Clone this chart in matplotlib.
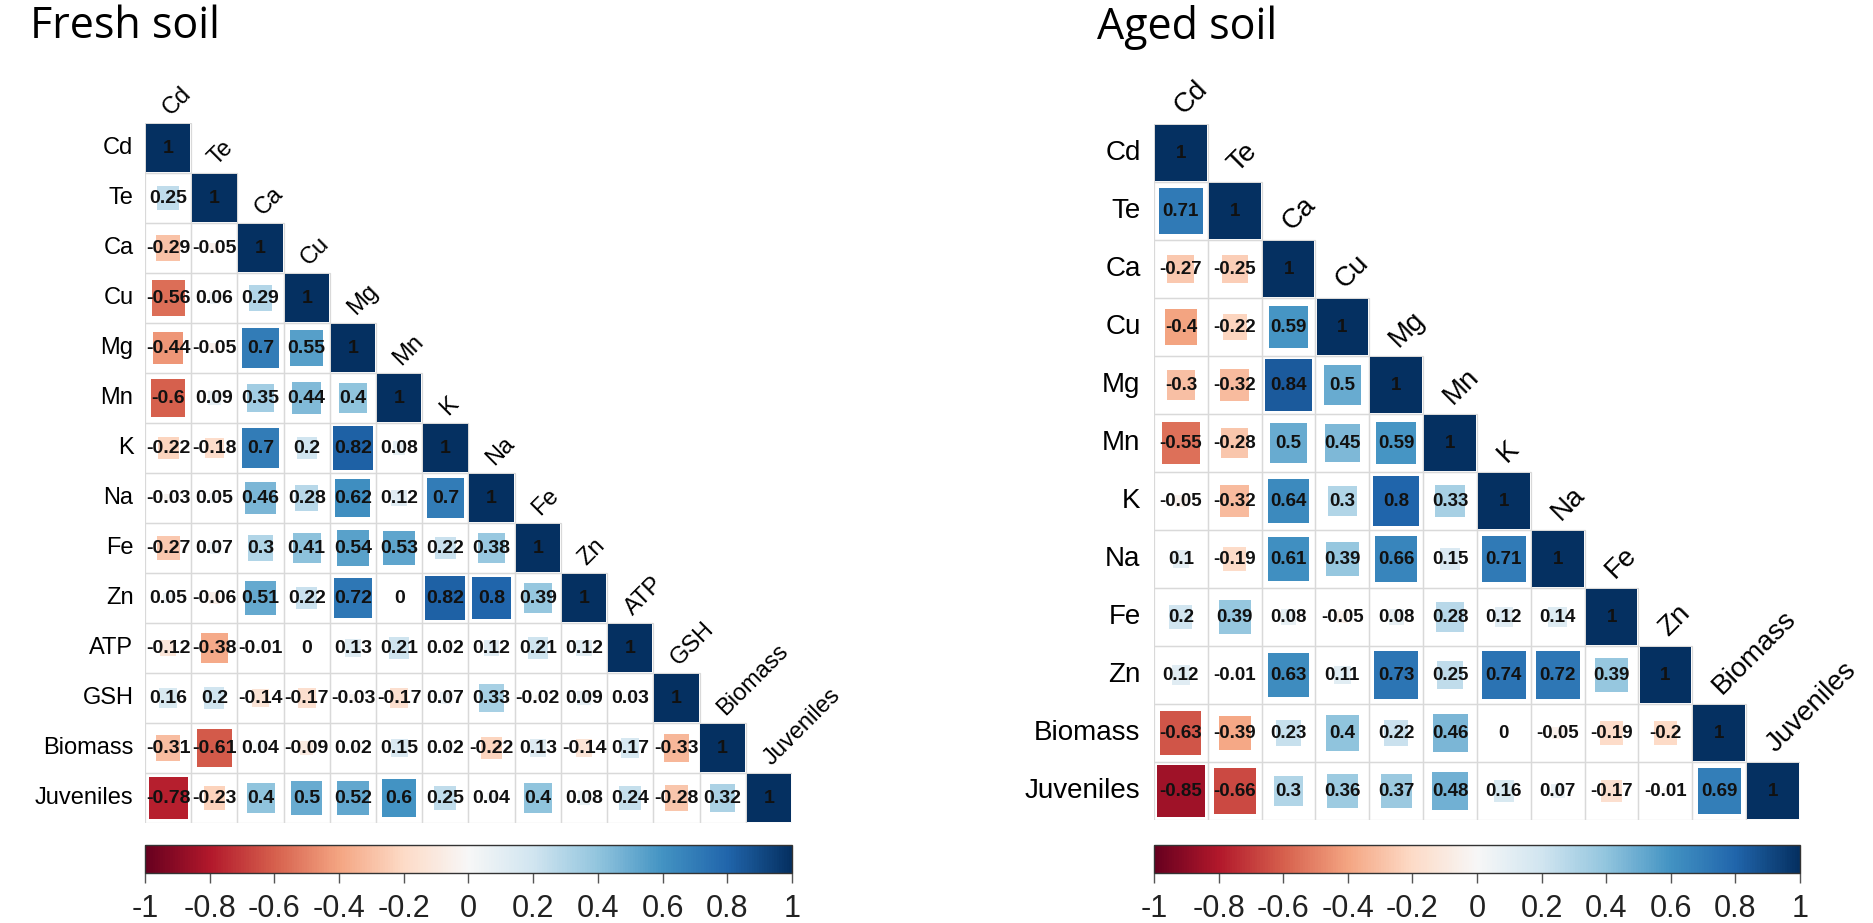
import matplotlib
matplotlib.use("Agg")
import matplotlib.pyplot as plt
import numpy as np
from matplotlib.colors import Normalize
from matplotlib.patches import Rectangle

# Lower-triangle Pearson correlations, row by row (diagonal left out)
fresh_vars = ["Cd", "Te", "Ca", "Cu", "Mg", "Mn", "K", "Na", "Fe", "Zn",
              "ATP", "GSH", "Biomass", "Juveniles"]
fresh_rows = [
    [0.25],
    [-0.29, -0.05],
    [-0.56, 0.06, 0.29],
    [-0.44, -0.05, 0.7, 0.55],
    [-0.6, 0.09, 0.35, 0.44, 0.4],
    [-0.22, -0.18, 0.7, 0.2, 0.82, 0.08],
    [-0.03, 0.05, 0.46, 0.28, 0.62, 0.12, 0.7],
    [-0.27, 0.07, 0.3, 0.41, 0.54, 0.53, 0.22, 0.38],
    [0.05, -0.06, 0.51, 0.22, 0.72, 0, 0.82, 0.8, 0.39],
    [-0.12, -0.38, -0.01, 0, 0.13, 0.21, 0.02, 0.12, 0.21, 0.12],
    [0.16, 0.2, -0.14, -0.17, -0.03, -0.17, 0.07, 0.33, -0.02, 0.09, 0.03],
    [-0.31, -0.61, 0.04, -0.09, 0.02, 0.15, 0.02, -0.22, 0.13, -0.14, 0.17, -0.33],
    [-0.78, -0.23, 0.4, 0.5, 0.52, 0.6, 0.25, 0.04, 0.4, 0.08, 0.24, -0.28, 0.32],
]

aged_vars = ["Cd", "Te", "Ca", "Cu", "Mg", "Mn", "K", "Na", "Fe", "Zn",
             "Biomass", "Juveniles"]
aged_rows = [
    [0.71],
    [-0.27, -0.25],
    [-0.4, -0.22, 0.59],
    [-0.3, -0.32, 0.84, 0.5],
    [-0.55, -0.28, 0.5, 0.45, 0.59],
    [-0.05, -0.32, 0.64, 0.3, 0.8, 0.33],
    [0.1, -0.19, 0.61, 0.39, 0.66, 0.15, 0.71],
    [0.2, 0.39, 0.08, -0.05, 0.08, 0.28, 0.12, 0.14],
    [0.12, -0.01, 0.63, 0.11, 0.73, 0.25, 0.74, 0.72, 0.39],
    [-0.63, -0.39, 0.23, 0.4, 0.22, 0.46, 0, -0.05, -0.19, -0.2],
    [-0.85, -0.66, 0.3, 0.36, 0.37, 0.48, 0.16, 0.07, -0.17, -0.01, 0.69],
]

colorbar_ticks = [-1, -0.8, -0.6, -0.4, -0.2, 0, 0.2, 0.4, 0.6, 0.8, 1]

W, H = 1874, 923
CMAP = plt.cm.RdBu
NORM = Normalize(-1, 1)
SANS = ["Liberation Sans", "DejaVu Sans"]
TITLE_FONT = ["Open Sans", "DejaVu Sans"]


def px_box(x0, y0, x1, y1):
    return [x0 / W, 1 - y1 / H, (x1 - x0) / W, (y1 - y0) / H]


def full_matrix(rows):
    n = len(rows) + 1
    mat = np.eye(n)
    for i, row in enumerate(rows, start=1):
        for j, v in enumerate(row):
            mat[i, j] = v
            mat[j, i] = v
    return mat


def draw_corr(fig, box, names, rows, label_size, num_size):
    mat = full_matrix(rows)
    n = len(names)
    ax = fig.add_axes(px_box(*box))
    ax.set_xlim(-0.5, n - 0.5)
    ax.set_ylim(n - 0.5, -0.5)
    ax.axis("off")

    for i in range(n):
        for j in range(i + 1):
            ax.add_patch(Rectangle((j - 0.5, i - 0.5), 1, 1, facecolor="none",
                                   edgecolor="#d9d9d9", linewidth=0.9, zorder=1))
            r = mat[i, j]
            # square area follows |r|
            side = np.sqrt(abs(r)) * 0.96
            if side > 0:
                ax.add_patch(Rectangle((j - side / 2, i - side / 2), side, side,
                                       facecolor=CMAP(NORM(r)), edgecolor="none",
                                       zorder=2))
            ax.text(j, i, f"{r:g}", ha="center", va="center", fontsize=num_size,
                    fontweight="bold", family=SANS, color="#111111", zorder=3)

    for i, name in enumerate(names):
        ax.text(-0.5 - 0.25, i, name, ha="right", va="center",
                fontsize=label_size, family=SANS, color="black")
        ax.text(i + 0.05, i - 0.5 - 0.15, name, ha="left", va="baseline",
                rotation=45, rotation_mode="anchor", fontsize=label_size,
                family=SANS, color="black", clip_on=False)
    return ax


def draw_colorbar(fig, box):
    cax = fig.add_axes(px_box(*box))
    sm = plt.cm.ScalarMappable(norm=NORM, cmap=CMAP)
    cb = fig.colorbar(sm, cax=cax, orientation="horizontal")
    cb.set_ticks(colorbar_ticks)
    cb.set_ticklabels([f"{t:g}" for t in colorbar_ticks])
    cb.outline.set_linewidth(1.0)
    cb.outline.set_edgecolor("#333333")
    cax.tick_params(axis="x", direction="out", length=7, width=1,
                    color="#555555", labelsize=22, labelcolor="#222222", pad=8)
    for lab in cax.get_xticklabels():
        lab.set_family(SANS)
    return cb


fig = plt.figure(figsize=(W / 100, H / 100), dpi=100)

draw_corr(fig, (145, 123, 792, 823), fresh_vars, fresh_rows, 17, 14)
draw_colorbar(fig, (145, 845, 792, 873))
fig.text(30 / W, 1 - 27 / H, "Fresh soil", fontsize=31, family=TITLE_FONT,
         ha="left", va="center")

draw_corr(fig, (1154, 124, 1800, 820), aged_vars, aged_rows, 20, 13.5)
draw_colorbar(fig, (1154, 845, 1800, 873))
fig.text(1097 / W, 1 - 27 / H, "Aged soil", fontsize=31, family=TITLE_FONT,
         ha="left", va="center")

fig.savefig("out.png", dpi=100, facecolor="white")
